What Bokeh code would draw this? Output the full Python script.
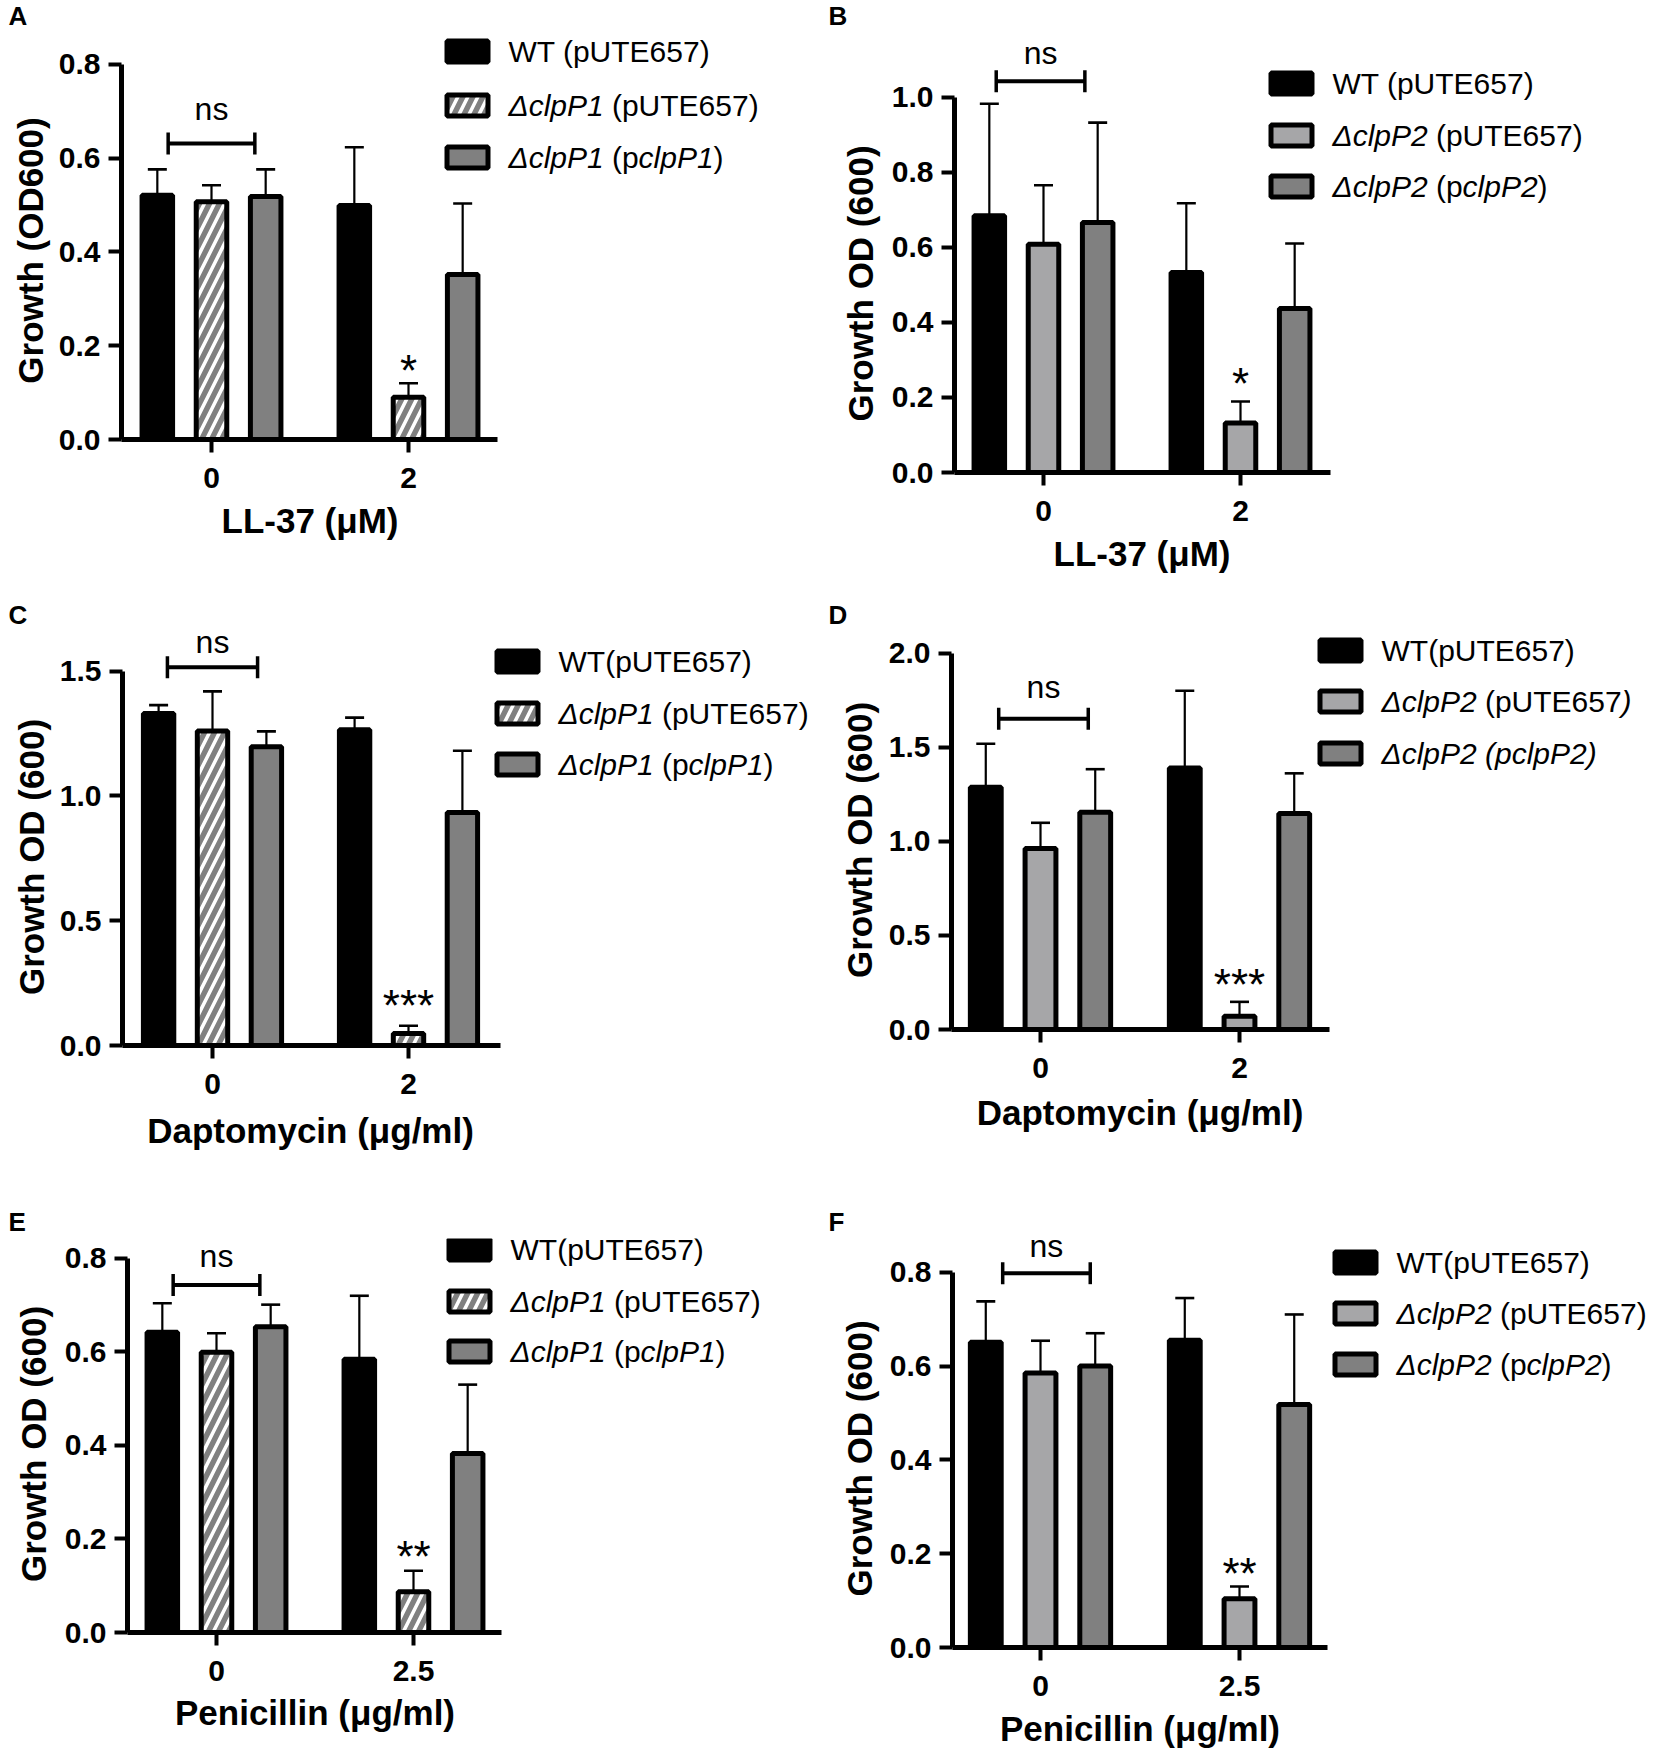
from bokeh.plotting import figure
from bokeh.models import (ColumnDataSource, Range1d, FixedTicker, Whisker, TeeHead,
                          Label, BoxAnnotation, NumeralTickFormatter, Title)
from bokeh.transform import dodge
from bokeh.layouts import column, row
from bokeh.embed import file_html
from bokeh.resources import INLINE

# ---------------- data ----------------
A_doses = ["0", "2"]
A_wt = [0.521, 0.499];   A_wt_sd = [0.055, 0.124]
A_mut = [0.507, 0.090];  A_mut_sd = [0.035, 0.030]
A_comp = [0.518, 0.352]; A_comp_sd = [0.058, 0.151]

B_doses = ["0", "2"]
B_wt = [0.684, 0.533];   B_wt_sd = [0.298, 0.184]
B_mut = [0.608, 0.132];  B_mut_sd = [0.157, 0.057]
B_comp = [0.666, 0.437]; B_comp_sd = [0.266, 0.173]

C_doses = ["0", "2"]
C_wt = [1.331, 1.265];   C_wt_sd = [0.033, 0.049]
C_mut = [1.260, 0.048];  C_mut_sd = [0.159, 0.031]
C_comp = [1.197, 0.934]; C_comp_sd = [0.062, 0.247]

D_doses = ["0", "2"]
D_wt = [1.288, 1.390];   D_wt_sd = [0.231, 0.411]
D_mut = [0.962, 0.070];  D_mut_sd = [0.137, 0.077]
D_comp = [1.155, 1.149]; D_comp_sd = [0.229, 0.213]

E_doses = ["0", "2.5"]
E_wt = [0.642, 0.584];   E_wt_sd = [0.062, 0.136]
E_mut = [0.599, 0.087];  E_mut_sd = [0.041, 0.045]
E_comp = [0.654, 0.383]; E_comp_sd = [0.047, 0.147]

F_doses = ["0", "2.5"]
F_wt = [0.651, 0.655];   F_wt_sd = [0.087, 0.090]
F_mut = [0.585, 0.104];  F_mut_sd = [0.069, 0.026]
F_comp = [0.600, 0.518]; F_comp_sd = [0.070, 0.192]

# significance labels
A_sig = ["ns", "*"]
B_sig = ["ns", "*"]
C_sig = ["ns", "***"]
D_sig = ["ns", "***"]
E_sig = ["ns", "**"]
F_sig = ["ns", "**"]

# legend labels: list of (text, italic) segments
LEG_A = [[("WT (pUTE657)", False)],
         [("\u0394clpP1", True), (" (pUTE657)", False)],
         [("\u0394clpP1", True), (" (p", False), ("clpP1", True), (")", False)]]
LEG_B = [[("WT (pUTE657)", False)],
         [("\u0394clpP2", True), (" (pUTE657)", False)],
         [("\u0394clpP2", True), (" (p", False), ("clpP2", True), (")", False)]]
LEG_CE = [[("WT(pUTE657)", False)],
          [("\u0394clpP1", True), (" (pUTE657)", False)],
          [("\u0394clpP1", True), (" (p", False), ("clpP1", True), (")", False)]]
LEG_D = [[("WT(pUTE657)", False)],
         [("\u0394clpP2", True), (" (pUTE657", False), (")", True)],
         [("\u0394clpP2 (pclpP2)", True)]]
LEG_F = [[("WT(pUTE657)", False)],
         [("\u0394clpP2", True), (" (pUTE657)", False)],
         [("\u0394clpP2", True), (" (p", False), ("clpP2", True), (")", False)]]

# ---------------- styles ----------------
FONT = "Liberation Sans"
BLACK = "#000000"
GRAY = "#808080"
LIGHT = "#a6a6a8"
OFFSETS = [-0.275, 0.0, 0.275]
BAR_W = 0.155

EM = {'W': .944, 'T': .611, ' ': .278, '(': .333, ')': .333, 'p': .556, 'U': .722,
      'E': .667, '6': .556, '5': .556, '7': .556, '\u0394': .668, 'c': .5, 'l': .222,
      'P': .667, '1': .556, '2': .556}
EM_B = {'G': .778, 'r': .389, 'o': .611, 'w': .778, 't': .333, 'h': .611, ' ': .278,
        '(': .333, ')': .333, 'O': .778, 'D': .722, '6': .556, '0': .556, 'L': .611,
        '-': .333, '3': .556, '7': .556, '\u03bc': .611, 'M': .833, 'a': .556, 'p': .611,
        'm': .889, 'y': .556, 'c': .556, 'i': .278, 'n': .611, 'g': .611, '/': .278,
        'l': .278, 'P': .667, 'e': .556}


def tw(s, size, table=EM):
    return sum(table.get(ch, .556) for ch in s) * size


def style_p1():
    return [dict(fill_color=BLACK),
            dict(fill_color=GRAY, hatch_pattern="/", hatch_color="white",
                 hatch_weight=3.5, hatch_scale=20),
            dict(fill_color=GRAY)]


def style_p2():
    return [dict(fill_color=BLACK), dict(fill_color=LIGHT), dict(fill_color=GRAY)]


panels = [
    dict(letter="A", doses=A_doses, series=[(A_wt, A_wt_sd), (A_mut, A_mut_sd), (A_comp, A_comp_sd)],
         styles=style_p1(), yticks=[0, 0.2, 0.4, 0.6, 0.8], ylabel="Growth (OD600)",
         xlabel="LL-37 (\u03bcM)", legend=LEG_A, sig=A_sig,
         cell=(0, 0, 827, 566), geo=(121, 497, 211, 197, 439, 61),
         bracket=(0.631, -0.22, 0.22), ns_y=0.698, star_y=0.167,
         leg=(444, 508, [51, 105, 157]), lab=8, xls=16, yls=11),
    dict(letter="B", doses=B_doses, series=[(B_wt, B_wt_sd), (B_mut, B_mut_sd), (B_comp, B_comp_sd)],
         styles=style_p2(), yticks=[0, 0.2, 0.4, 0.6, 0.8, 1.0], ylabel="Growth OD (600)",
         xlabel="LL-37 (\u03bcM)", legend=LEG_B, sig=B_sig,
         cell=(827, 0, 828, 599), geo=(954, 1330, 1043, 197, 472, 94),
         bracket=(1.042, -0.24, 0.21), ns_y=1.111, star_y=0.262,
         leg=(1268, 1332, [83, 135, 186]), lab=828, xls=16, yls=17),
    dict(letter="C", doses=C_doses, series=[(C_wt, C_wt_sd), (C_mut, C_mut_sd), (C_comp, C_comp_sd)],
         styles=style_p1(), yticks=[0, 0.5, 1.0, 1.5], ylabel="Growth OD (600)",
         xlabel="Daptomycin (\u03bcg/ml)", legend=LEG_CE, sig=C_sig,
         cell=(0, 599, 827, 607), geo=(122, 500, 212, 196, 1045, 668),
         bracket=(1.516, -0.23, 0.23), ns_y=1.607, star_y=0.20,
         leg=(494, 558, [661, 713, 764]), lab=8, xls=25, yls=12),
    dict(letter="D", doses=D_doses, series=[(D_wt, D_wt_sd), (D_mut, D_mut_sd), (D_comp, D_comp_sd)],
         styles=style_p2(), yticks=[0, 0.5, 1.0, 1.5, 2.0], ylabel="Growth OD (600)",
         xlabel="Daptomycin (\u03bcg/ml)", legend=LEG_D, sig=D_sig,
         cell=(827, 599, 828, 591), geo=(951, 1329, 1040, 199, 1029, 650),
         bracket=(1.652, -0.21, 0.24), ns_y=1.805, star_y=0.29,
         leg=(1317, 1381, [650, 701, 753]), lab=828, xls=20, yls=14),
    dict(letter="E", doses=E_doses, series=[(E_wt, E_wt_sd), (E_mut, E_mut_sd), (E_comp, E_comp_sd)],
         styles=style_p1(), yticks=[0, 0.2, 0.4, 0.6, 0.8], ylabel="Growth OD (600)",
         xlabel="Penicillin (\u03bcg/ml)", legend=LEG_CE, sig=E_sig,
         cell=(0, 1206, 827, 535), geo=(127, 501, 216, 197, 1632, 1255),
         bracket=(0.743, -0.22, 0.22), ns_y=0.800, star_y=0.182,
         leg=(446, 510, [1249, 1301, 1351]), lab=8, xls=14, yls=17.5),
    dict(letter="F", doses=F_doses, series=[(F_wt, F_wt_sd), (F_mut, F_mut_sd), (F_comp, F_comp_sd)],
         styles=style_p2(), yticks=[0, 0.2, 0.4, 0.6, 0.8], ylabel="Growth OD (600)",
         xlabel="Penicillin (\u03bcg/ml)", legend=LEG_F, sig=F_sig,
         cell=(827, 1206, 828, 550), geo=(952, 1327, 1040, 199, 1647, 1269),
         bracket=(0.798, -0.19, 0.25), ns_y=0.849, star_y=0.178,
         leg=(1332, 1396, [1262, 1313, 1364]), lab=828, xls=16, yls=15),
]

TICK_FS = 30
AXLAB_FS = 35
LEG_FS = 30
NS_FS = 32
STAR_FS = 44
TOP = 29


def build(cfg):
    cx, cy, W, H = cfg["cell"]
    yax, xend, t0, s, fb, ty = cfg["geo"]
    ymax = cfg["yticks"][-1]
    dpp = ymax / (fb - ty)  # data units per pixel
    y_end = (fb - (cy + TOP)) * dpp
    x_start = (yax - t0) / s
    x_end = (cx + W - t0) / s

    p = figure(width=W, height=H, output_backend="svg", toolbar_location=None,
               x_range=Range1d(x_start, x_end), y_range=Range1d(0, y_end),
               min_border_left=yax - cx, min_border_right=0, min_border_top=TOP,
               min_border_bottom=cy + H - fb)
    p.outline_line_color = None
    p.xgrid.visible = False
    p.ygrid.visible = False
    p.background_fill_color = "white"
    p.border_fill_color = "white"

    # panel letter
    p.title.text = cfg["letter"]
    p.title.align = "left"
    p.title.offset = cfg["lab"] - yax
    p.title.standoff = 0
    p.title.vertical_align = "top"
    p.title.text_font = FONT
    p.title.text_font_style = "bold"
    p.title.text_font_size = "26px"
    p.title.text_color = "black"

    for ax in (p.xaxis[0], p.yaxis[0]):
        ax.axis_line_width = 5
        ax.axis_line_color = "black"
        ax.major_tick_line_width = 4
        ax.major_tick_line_color = "black"
        ax.major_tick_in = 0
        ax.major_tick_out = 13
        ax.minor_tick_line_color = None
        ax.major_label_text_font = FONT
        ax.major_label_text_font_style = "bold"
        ax.major_label_text_font_size = f"{TICK_FS}px"
        ax.major_label_text_color = "black"

    xa = p.xaxis[0]
    xa.ticker = FixedTicker(ticks=list(range(len(cfg["doses"]))))
    xa.major_label_overrides = {i: d for i, d in enumerate(cfg["doses"])}
    xa.bounds = (x_start, (xend - t0) / s)
    xa.major_label_standoff = 15

    # x-axis title, centred under the two dose groups
    xl_w = tw(cfg["xlabel"], AXLAB_FS, EM_B)
    p.add_layout(Title(text=cfg["xlabel"], align="left",
                       offset=(t0 + s / 2) - xl_w / 2 - yax,
                       standoff=cfg["xls"], text_font=FONT, text_font_style="bold",
                       text_font_size=f"{AXLAB_FS}px", text_color="black"), "below")

    ya = p.yaxis[0]
    ya.ticker = FixedTicker(ticks=cfg["yticks"])
    ya.formatter = NumeralTickFormatter(format="0.0")
    ya.bounds = (0, ymax)
    ya.major_label_standoff = 8

    # y-axis title, centred on the drawn axis
    yl_w = tw(cfg["ylabel"], AXLAB_FS, EM_B)
    p.add_layout(Title(text=cfg["ylabel"], align="left",
                       offset=(fb - ty) / 2 - yl_w / 2,
                       standoff=cfg["yls"], text_font=FONT, text_font_style="bold",
                       text_font_size=f"{AXLAB_FS}px", text_color="black"), "left")

    n = len(cfg["doses"])
    for i, ((vals, sds), st) in enumerate(zip(cfg["series"], cfg["styles"])):
        src = ColumnDataSource(dict(x=list(range(n)), top=vals,
                                    upper=[v + e for v, e in zip(vals, sds)]))
        p.vbar(x=dodge("x", OFFSETS[i]), top="top", bottom=0, width=BAR_W, source=src,
               line_color="black", line_width=5, **st)
        p.add_layout(Whisker(base=dodge("x", OFFSETS[i]), lower="top", upper="upper",
                             source=src, dimension="height", line_width=2.2,
                             line_color="black",
                             upper_head=TeeHead(size=19, line_width=2.6, line_color="black"),
                             lower_head=None))

    # ns bracket
    by, bx0, bx1 = cfg["bracket"]
    bsrc = ColumnDataSource(dict(y=[by], x0=[bx0], x1=[bx1]))
    p.add_layout(Whisker(base="y", lower="x0", upper="x1", source=bsrc, dimension="width",
                         line_width=4, line_color="black",
                         lower_head=TeeHead(size=22, line_width=3.5, line_color="black"),
                         upper_head=TeeHead(size=22, line_width=3.5, line_color="black")))
    p.add_layout(Label(x=(bx0 + bx1) / 2, y=cfg["ns_y"] + 2.8 * dpp, text=cfg["sig"][0],
                       text_align="center", text_baseline="middle", text_font=FONT,
                       text_font_size=f"{NS_FS}px", text_color="black"))
    p.add_layout(Label(x=1 + OFFSETS[1], y=cfg["star_y"] - 9.5 * dpp, text=cfg["sig"][1],
                       text_align="center", text_baseline="middle", text_font=FONT,
                       text_font_size=f"{STAR_FS}px", text_color="black"))

    # legend (drawn in screen pixels relative to the frame)
    sw_x0, tx, rows = cfg["leg"]
    for k, (row_y, segs, st) in enumerate(zip(rows, cfg["legend"], cfg["styles"])):
        box = dict(fill_color=st["fill_color"], fill_alpha=1.0, line_color="black",
                   line_alpha=1.0, line_width=5)
        if "hatch_pattern" in st:
            box.update(hatch_pattern=st["hatch_pattern"], hatch_color="white", hatch_alpha=1.0,
                       hatch_weight=st["hatch_weight"], hatch_scale=st["hatch_scale"])
        p.add_layout(BoxAnnotation(left=sw_x0 - yax + 2.5, right=sw_x0 + 46 - yax - 2.5,
                                   top=fb - (row_y - 10.5), bottom=fb - (row_y + 10.5),
                                   left_units="screen", right_units="screen",
                                   top_units="screen", bottom_units="screen", **box))
        xoff = tx - yax
        for text, ital in segs:
            stripped = text.lstrip(" ")
            xoff += tw(text[:len(text) - len(stripped)], LEG_FS)
            p.add_layout(Label(x=xoff, y=fb - row_y, x_units="screen", y_units="screen",
                               text=stripped, text_align="left", text_baseline="middle",
                               text_font=FONT, text_font_size=f"{LEG_FS}px",
                               text_font_style="italic" if ital else "normal",
                               text_color="black"))
            xoff += tw(stripped, LEG_FS)
    return p


figs = [build(c) for c in panels]
layout = column(row(figs[0], figs[1]), row(figs[2], figs[3]), row(figs[4], figs[5]))

open("out.html", "w").write(file_html(layout, INLINE))
